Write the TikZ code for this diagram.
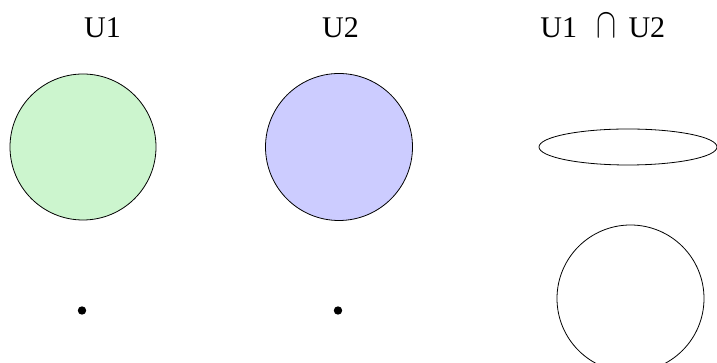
\RequirePackage{fix-cm}
\documentclass[tikz,border=0pt]{standalone}
\usepackage{fontspec}
\setmainfont{Liberation Serif}
\usetikzlibrary{positioning}
\definecolor{setgreen}{RGB}{204,245,206}
\definecolor{setblue}{RGB}{204,204,255}

\begin{document}
\begin{tikzpicture}[x=1pt,y=1pt,line width=0.8pt]
\useasboundingbox (0,0) rectangle (717,363);

\begin{scope}
%\draw(83,216) node (A) {};
\draw[fill=setgreen](83,216) circle (73);
\draw(102.5,325) node[anchor=base,inner sep=0] (s1) {\fontsize{30}{36}\selectfont U1};
\fill(82,52.5) circle (4.2);
\end{scope}

\begin{scope}[xshift=256]
\draw[fill=setblue](83,216) circle (73.5);
\draw(84.5,325) node[anchor=base,inner sep=0] (s2) {\fontsize{30}{36}\selectfont U2};
\fill(82,52.5) circle (4.2);
\end{scope}

\begin{scope}
\draw(540,325) node[anchor=base west,inner sep=0] (s12) {\fontsize{30}{36}\selectfont U1\hspace{19pt}\scalebox{1}[1.4]{$\cap$}\hspace{12.5pt}U2};
\draw(628,216) ellipse (89 and 18);
\draw(630.5,64.5) circle (73.5);
\end{scope}
\end{tikzpicture}
\end{document}
